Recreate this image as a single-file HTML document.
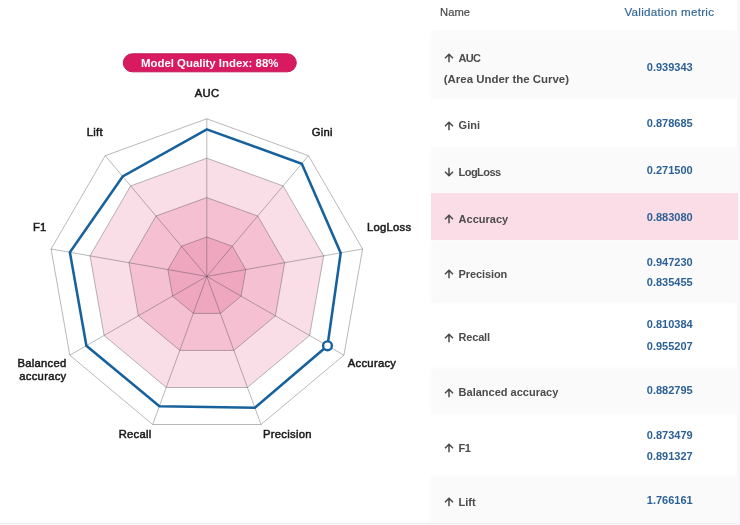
<!DOCTYPE html>
<html><head><meta charset="utf-8"><title>Model Quality</title>
<style>
html,body{margin:0;padding:0;background:#fff;}
body{width:740px;height:525px;position:relative;overflow:hidden;font-family:"Liberation Sans",sans-serif;}
.radar{position:absolute;left:0;top:0;}
.radar text{font-family:"Liberation Sans",sans-serif;font-size:10.0px;font-weight:normal;letter-spacing:0.25px;fill:#1a1a1a;stroke:#1a1a1a;stroke-width:0.46px;}
.radar text.bt{font-size:11.4px;font-weight:bold;letter-spacing:0;fill:#fff;stroke:none;}
.hd{position:absolute;-webkit-text-stroke:0.2px currentColor;font-size:11.5px;line-height:16px;white-space:nowrap;}
.row{position:absolute;left:430.8px;width:307px;}
.soft{filter:blur(1.8px);}
.pink{z-index:1;}
.nm,.val,.arw{z-index:2;}
.edge{position:absolute;left:737.4px;top:0;width:2.6px;height:525px;background:#f8f8fb;}
.nm{position:absolute;font-weight:bold;font-size:11px;line-height:16px;color:#4b4b4b;white-space:nowrap;}
.val{position:absolute;left:646.8px;font-weight:bold;font-size:11px;line-height:16px;color:#2d6195;white-space:nowrap;}
.arw{position:absolute;left:444px;width:10px;height:10px;}
.arw svg{display:block;}
.foot{position:absolute;left:0;top:523px;width:737px;height:2px;background:#f7f7f8;border-top:1px solid #ececee;box-sizing:border-box;}
</style></head><body>
<svg class="radar" width="430" height="525" viewBox="0 0 430 525">
<polygon points="206.8,158.2 283.1,185.9 323.7,255.9 309.6,335.5 247.4,387.5 166.3,387.5 104.1,335.5 90.0,255.9 130.6,185.9" fill="rgba(216,27,96,0.15)"/>
<polygon points="206.8,197.6 257.7,216.0 284.7,262.7 275.4,315.8 233.9,350.4 179.8,350.4 138.3,315.8 129.0,262.7 156.0,216.0" fill="rgba(216,27,96,0.15)"/>
<polygon points="206.8,237.0 232.3,246.2 245.8,269.6 241.1,296.1 220.4,313.4 193.3,313.4 172.6,296.1 167.9,269.6 181.4,246.2" fill="rgba(216,27,96,0.15)"/>
<polygon points="206.8,237.0 232.3,246.2 245.8,269.6 241.1,296.1 220.4,313.4 193.3,313.4 172.6,296.1 167.9,269.6 181.4,246.2" fill="none" stroke="rgba(60,60,70,0.36)" stroke-width="1"/>
<polygon points="206.8,197.6 257.7,216.0 284.7,262.7 275.4,315.8 233.9,350.4 179.8,350.4 138.3,315.8 129.0,262.7 156.0,216.0" fill="none" stroke="rgba(60,60,70,0.36)" stroke-width="1"/>
<polygon points="206.8,158.2 283.1,185.9 323.7,255.9 309.6,335.5 247.4,387.5 166.3,387.5 104.1,335.5 90.0,255.9 130.6,185.9" fill="none" stroke="rgba(60,60,70,0.36)" stroke-width="1"/>
<polygon points="206.8,118.8 308.5,155.7 362.6,249.0 343.9,355.2 261.0,424.5 152.7,424.5 69.8,355.2 51.1,249.0 105.2,155.7" fill="none" stroke="rgba(60,60,70,0.36)" stroke-width="1"/>
<line x1="206.8" y1="276.4" x2="206.8" y2="118.8" stroke="rgba(60,60,70,0.36)" stroke-width="1"/>
<line x1="206.8" y1="276.4" x2="308.5" y2="155.7" stroke="rgba(60,60,70,0.36)" stroke-width="1"/>
<line x1="206.8" y1="276.4" x2="362.6" y2="249.0" stroke="rgba(60,60,70,0.36)" stroke-width="1"/>
<line x1="206.8" y1="276.4" x2="343.9" y2="355.2" stroke="rgba(60,60,70,0.36)" stroke-width="1"/>
<line x1="206.8" y1="276.4" x2="261.0" y2="424.5" stroke="rgba(60,60,70,0.36)" stroke-width="1"/>
<line x1="206.8" y1="276.4" x2="152.7" y2="424.5" stroke="rgba(60,60,70,0.36)" stroke-width="1"/>
<line x1="206.8" y1="276.4" x2="69.8" y2="355.2" stroke="rgba(60,60,70,0.36)" stroke-width="1"/>
<line x1="206.8" y1="276.4" x2="51.1" y2="249.0" stroke="rgba(60,60,70,0.36)" stroke-width="1"/>
<line x1="206.8" y1="276.4" x2="105.2" y2="155.7" stroke="rgba(60,60,70,0.36)" stroke-width="1"/>
<polygon points="206.8,129.4 301.8,163.7 340.7,252.9 327.5,345.8 254.9,407.8 159.4,406.3 86.4,345.7 69.9,252.3 122.7,176.5" fill="none" stroke="#17629c" stroke-width="2.55" stroke-linejoin="miter"/>
<circle cx="327.5" cy="345.8" r="4.4" fill="#fff" stroke="#17629c" stroke-width="2.4"/>
<text transform="translate(207.0,96.7) scale(1.125,1)" text-anchor="middle">AUC</text>
<text transform="translate(322.3,135.6) scale(1.125,1)" text-anchor="middle">Gini</text>
<text transform="translate(366.9,231.1) scale(1.125,1)" text-anchor="start">LogLoss</text>
<text transform="translate(347.8,367.1) scale(1.125,1)" text-anchor="start">Accuracy</text>
<text transform="translate(263.0,438.4) scale(1.125,1)" text-anchor="start">Precision</text>
<text transform="translate(151.6,438.2) scale(1.125,1)" text-anchor="end">Recall</text>
<text transform="translate(66.5,367.0) scale(1.125,1)" text-anchor="end">Balanced</text>
<text transform="translate(66.5,379.6) scale(1.125,1)" text-anchor="end">accuracy</text>
<text transform="translate(46.6,231.2) scale(1.125,1)" text-anchor="end">F1</text>
<text transform="translate(102.9,135.7) scale(1.125,1)" text-anchor="end">Lift</text>
<rect x="123.3" y="53.8" width="173" height="18" rx="9" ry="9" fill="#d81b60" stroke="#c21758" stroke-width="1"/>
<text class="bt" x="209.7" y="66.6" text-anchor="middle">Model Quality Index: 88%</text>
</svg>
<div class="hd" style="left:440.1px;top:3.6px;color:#4a4a4a;font-size:11.2px">Name</div>
<div class="hd" style="left:624.4px;top:3.5px;color:#36689a;font-size:11.6px;letter-spacing:0.3px">Validation metric</div>
<div class="row soft" style="top:31.0px;height:67.5px;background:#fafafb"></div>
<div class="arw" style="top:52.8px"><svg class="ar" width="10" height="10" viewBox="0 0 10 10"><path d="M5 9.3V1.3M1 5.2L5 1.2L9 5.2" fill="none" stroke="#4a4a4a" stroke-width="1.5"/></svg></div>
<div class="nm" style="top:49.5px;left:458.6px;letter-spacing:-0.8px">AUC</div>
<div class="nm" style="top:71.0px;left:443.8px;font-size:11.45px">(Area Under the Curve)</div>
<div class="val" style="top:58.5px">0.939343</div>
<div class="row" style="top:97.0px;height:49.8px;background:transparent"></div>
<div class="arw" style="top:120.6px"><svg class="ar" width="10" height="10" viewBox="0 0 10 10"><path d="M5 9.3V1.3M1 5.2L5 1.2L9 5.2" fill="none" stroke="#4a4a4a" stroke-width="1.5"/></svg></div>
<div class="nm" style="top:117.3px;left:458.6px;">Gini</div>
<div class="val" style="top:115.3px">0.878685</div>
<div class="row soft" style="top:146.8px;height:47.1px;background:#fafafb"></div>
<div class="arw" style="top:167.2px"><svg class="ar" width="10" height="10" viewBox="0 0 10 10"><path d="M5 0.7V8.7M1 4.8L5 8.8L9 4.8" fill="none" stroke="#4a4a4a" stroke-width="1.5"/></svg></div>
<div class="nm" style="top:163.9px;left:458.6px;letter-spacing:-0.55px">LogLoss</div>
<div class="val" style="top:162.3px">0.271500</div>
<div class="row pink" style="top:192.6px;height:47.2px;background:#fadde7"></div>
<div class="arw" style="top:214.1px"><svg class="ar" width="10" height="10" viewBox="0 0 10 10"><path d="M5 9.3V1.3M1 5.2L5 1.2L9 5.2" fill="none" stroke="#4a4a4a" stroke-width="1.5"/></svg></div>
<div class="nm" style="top:210.8px;left:458.6px;">Accuracy</div>
<div class="val" style="top:208.7px">0.883080</div>
<div class="row soft" style="top:239.8px;height:63.1px;background:#fafafb"></div>
<div class="arw" style="top:269.0px"><svg class="ar" width="10" height="10" viewBox="0 0 10 10"><path d="M5 9.3V1.3M1 5.2L5 1.2L9 5.2" fill="none" stroke="#4a4a4a" stroke-width="1.5"/></svg></div>
<div class="nm" style="top:265.7px;left:458.6px;letter-spacing:-0.1px">Precision</div>
<div class="val" style="top:253.6px">0.947230</div>
<div class="val" style="top:274.3px">0.835455</div>
<div class="row" style="top:301.4px;height:66.1px;background:transparent"></div>
<div class="arw" style="top:332.5px"><svg class="ar" width="10" height="10" viewBox="0 0 10 10"><path d="M5 9.3V1.3M1 5.2L5 1.2L9 5.2" fill="none" stroke="#4a4a4a" stroke-width="1.5"/></svg></div>
<div class="nm" style="top:329.2px;left:458.6px;letter-spacing:-0.2px">Recall</div>
<div class="val" style="top:316.3px">0.810384</div>
<div class="val" style="top:337.9px">0.955207</div>
<div class="row soft" style="top:367.5px;height:46.8px;background:#fafafb"></div>
<div class="arw" style="top:387.7px"><svg class="ar" width="10" height="10" viewBox="0 0 10 10"><path d="M5 9.3V1.3M1 5.2L5 1.2L9 5.2" fill="none" stroke="#4a4a4a" stroke-width="1.5"/></svg></div>
<div class="nm" style="top:384.4px;left:458.6px;">Balanced accuracy</div>
<div class="val" style="top:381.8px">0.882795</div>
<div class="row" style="top:412.8px;height:63.1px;background:transparent"></div>
<div class="arw" style="top:443.1px"><svg class="ar" width="10" height="10" viewBox="0 0 10 10"><path d="M5 9.3V1.3M1 5.2L5 1.2L9 5.2" fill="none" stroke="#4a4a4a" stroke-width="1.5"/></svg></div>
<div class="nm" style="top:439.8px;left:458.6px;letter-spacing:-0.6px">F1</div>
<div class="val" style="top:426.8px">0.873479</div>
<div class="val" style="top:448.0px">0.891327</div>
<div class="row soft" style="top:475.9px;height:48.1px;background:#fafafb"></div>
<div class="arw" style="top:497.1px"><svg class="ar" width="10" height="10" viewBox="0 0 10 10"><path d="M5 9.3V1.3M1 5.2L5 1.2L9 5.2" fill="none" stroke="#4a4a4a" stroke-width="1.5"/></svg></div>
<div class="nm" style="top:493.8px;left:458.6px;">Lift</div>
<div class="val" style="top:492.1px">1.766161</div>
<div class="edge"></div>
<div class="foot"></div>
</body></html>
